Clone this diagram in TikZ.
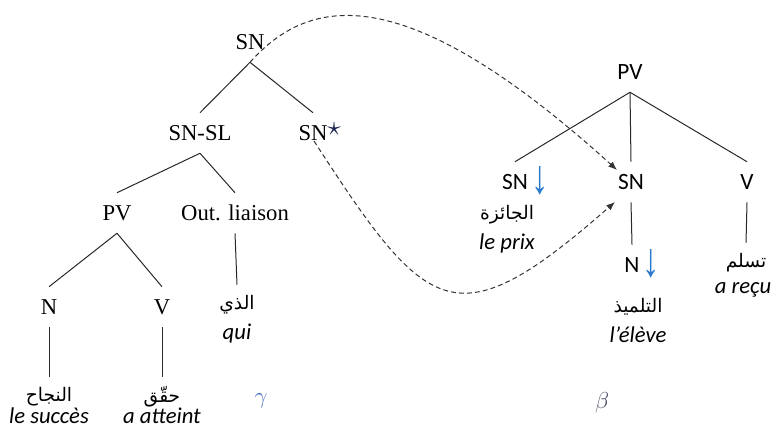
\documentclass[tikz,border=0pt]{standalone}
\usepackage{graphicx}
\usepackage{fontspec}
\setmainfont{Liberation Serif}
\newfontfamily\sansf{Carlito}
\newfontfamily\arabicfont[Script=Arabic]{DejaVu Sans}
\newfontfamily\symf{Liberation Sans}
\TeXXeTstate=1
\usetikzlibrary{arrows.meta,calc}
\definecolor{arrowblue}{RGB}{40,120,205}
\definecolor{greekblue}{RGB}{70,110,190}
\definecolor{greekgray}{RGB}{70,75,100}
\definecolor{stardark}{RGB}{25,35,75}
\definecolor{linegray}{RGB}{40,40,40}
\newcommand\dnarrow{\rlap{\hspace{2.5pt}\raisebox{-3pt}{\scalebox{1.3}[1.8]{\symf\fontsize{20}{20}\selectfont\color{arrowblue}↓}}}}
\newcommand\starmark{\rlap{\raisebox{3.5pt}{\color{stardark}\fontsize{20}{20}\selectfont$\star$}}}
\begin{document}
\begin{tikzpicture}[x=0.75pt,y=-0.75pt,
  lab/.style={inner sep=0pt, minimum height=30pt, text height=11.3pt, text depth=0pt, font=\fontsize{17}{20}\selectfont},
  slab/.style={inner sep=0pt, minimum height=30pt, text height=11pt, text depth=0pt, font=\sansf\fontsize{17.5}{20}\selectfont},
  arab/.style={inner sep=0pt, minimum height=30pt, font=\arabicfont\fontsize{14}{16}\selectfont},
  gloss/.style={inner sep=0pt, font=\sansf\itshape\fontsize{17}{20}\selectfont},
  branch/.style={draw=linegray, line width=0.75pt},
  link/.style={draw=black!80, line width=0.75pt, dash pattern=on 3.6pt off 2.4pt, -{Latex[length=6.5pt,width=5pt]}},
  greek/.style={inner sep=0pt, font=\fontsize{17}{20}\selectfont}
]
\useasboundingbox (0,0) rectangle (773,439);
% left tree
\node[lab] (snroot) at (250,42) {SN};
\node[lab] (snsl) at (200,133) {SN-SL};
\node[lab] (snstar) at (313,133) {SN\starmark};
\node[lab] (pvl) at (117,213) {PV};
\node[lab] (outl) at (235,213) {Out. liaison};
\node[lab] (nl) at (49,307) {N};
\node[lab] (vl) at (162,307) {V};
\node[arab] (ar1) at (49,397) {\beginR النجاح\endR};
\node[gloss] (fr1) at (49,416) {le succès};
\node[arab] (ar2) at (162,397) {\beginR حقّق\endR};
\node[gloss] (fr2) at (162,416) {a atteint};
\node[arab] (ar3) at (237,305) {\beginR الذي\endR};
\node[gloss] (fr3) at (237,334) {qui};
\node[greek] (gam) at (261,401) {\color{greekblue}$\gamma$};
\draw[branch] (snroot.south) -- (snsl.north);
\draw[branch] (snroot.south) -- (snstar.north);
\draw[branch] (snsl.south) -- (pvl.north);
\draw[branch] (snsl.south) -- (outl.north);
\draw[branch] (pvl.south) -- (nl.north);
\draw[branch] (pvl.south) -- (vl.north);
\draw[branch] (nl.south) -- (ar1.north);
\draw[branch] (vl.south) -- (ar2.north);
\draw[branch] (outl.south) -- (ar3.north);
% right tree
\node[slab] (pvr) at (630,72) {PV};
\node[slab] (snd) at (515,182) {SN\dnarrow};
\node[slab] (snr) at (631,182) {SN};
\node[slab] (vr) at (747,182) {V};
\node[slab] (nr) at (632,265) {N\dnarrow};
\node[arab] (ar4) at (507,215) {\beginR الجائزة\endR};
\node[gloss] (fr4) at (507,243) {le prix};
\node[arab] (ar5) at (638,307) {\beginR التلميذ\endR};
\node[gloss] (fr5) at (638,335) {l’élève};
\node[arab] (ar6) at (746,263) {\beginR تسلم\endR};
\node[gloss] (fr6) at (743,290) {a reçu};
\node[greek] (bet) at (602,403) {\color{greekgray}$\beta$};
\draw[branch] (pvr.south) -- (snd.north);
\draw[branch] (pvr.south) -- (snr.north);
\draw[branch] (pvr.south) -- (vr.north);
\draw[branch] (snr.south) -- (nr.north);
\draw[branch] (vr.south) -- (ar6.north);
% dashed links
\draw[link] (snroot.south) .. controls (310,-5) and (405,-22) .. ($(snr.center)+(-14,-12)$);
\draw[link] ($(snstar.center)+(1,8)$) .. controls (428,317) and (455,342) .. ($(snr.center)+(-16,20)$);
\end{tikzpicture}
\end{document}
